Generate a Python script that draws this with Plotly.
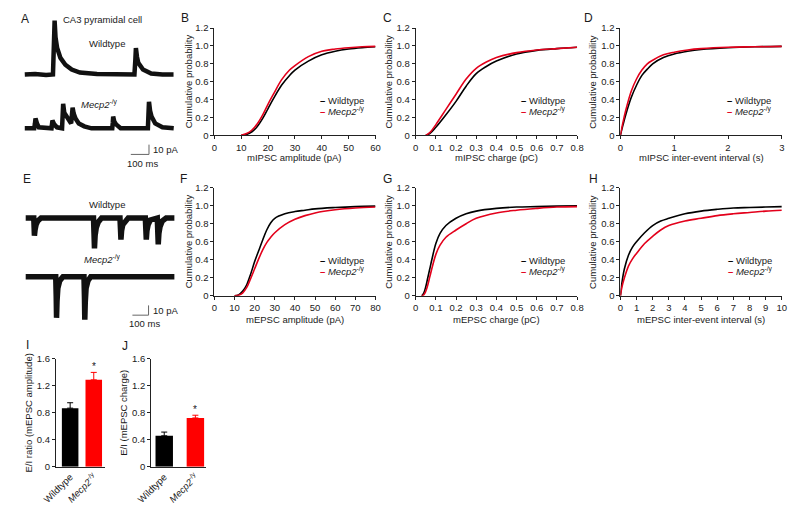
import plotly.graph_objects as go

W, H = 800, 509
FONT = "Liberation Sans, Arial, sans-serif"
TXT = "#1a1a1a"
BLACK = "#000000"
RED = "#e3001b"
BARRED = "#ff0000"
AXC = "#222222"
TRACEC = "#111111"

# ---------------- data: example traces (A, E) ----------------
SCALE_PA = 10
SCALE_MS = 100
a_wt_t = [3, 60, 120, 158, 163, 167, 172, 181, 199, 226, 261, 306, 400, 520, 606, 611, 614, 620, 627, 653, 698, 760, 821]
a_wt_i = [0, 0.5, -0.5, 0, 30, 55, 38, 27, 17, 10, 5, 2, 0.5, 0, 0, 15, 27, 18, 12, 5, 1, 0, 0]
a_ko_t = [3, 55, 59, 62, 70, 80, 150, 153, 155, 165, 180, 208, 211, 214, 220, 234, 250, 258, 262, 266, 272, 282, 300, 330,
          370, 484, 487, 489, 495, 505, 530, 680, 683, 686, 692, 700, 720, 760, 822]
a_ko_i = [0, 0, 5, 10, 5, 1, 0, 4, 8, 4, 1, 0, 12, 25, 16, 12, 7, 5, 13, 21, 15, 10, 5, 2,
          0, 0, 6, 12, 7, 4, 0, 0, 14, 27, 18, 12, 5, 1, 0]
e_wt_t = [0, 50, 52, 54, 58, 64, 75, 95, 420, 423, 426, 430, 437, 450, 470, 584, 587, 590, 594, 601, 615, 635,
          741, 744, 747, 751, 758, 772, 815, 818, 821, 825, 832, 846, 870, 921]
e_wt_i = [0, 0, -9, -18, -12, -7, -3, 0, 0, -15, -31, -18, -10, -4, 0, 0, -11, -22, -13, -7, -3, 0,
          0, -11, -22, -13, -7, -2, 0, -13, -27, -16, -9, -3, 0, 0]
e_ko_t = [0, 186, 189, 191, 194, 199, 211, 231, 361, 364, 366, 369, 374, 386, 403, 921]
e_ko_i = [0, 0, -20, -42, -25, -12, -4, 0, 0, -22, -44, -26, -12, -4, 0, 0]

# ---------------- data: cumulative distributions ----------------
b_x = [10, 12, 14, 16, 18, 20, 22, 25, 28, 30, 35, 40, 45, 50, 55, 60]
b_wt = [0, 0.01, 0.04, 0.1, 0.19, 0.3, 0.41, 0.56, 0.67, 0.73, 0.83, 0.9, 0.94, 0.965, 0.98, 0.99]
b_ko = [0, 0.02, 0.06, 0.13, 0.23, 0.35, 0.46, 0.62, 0.73, 0.78, 0.88, 0.94, 0.965, 0.98, 0.99, 0.995]

c_x = [0.05, 0.07, 0.1, 0.15, 0.2, 0.25, 0.3, 0.35, 0.4, 0.5, 0.6, 0.7, 0.8]
c_wt = [0, 0.02, 0.09, 0.23, 0.38, 0.55, 0.69, 0.77, 0.83, 0.91, 0.95, 0.97, 0.985]
c_ko = [0, 0.03, 0.12, 0.29, 0.46, 0.63, 0.75, 0.82, 0.87, 0.925, 0.955, 0.97, 0.985]

d_x = [0, 0.05, 0.1, 0.2, 0.3, 0.4, 0.5, 0.6, 0.8, 1, 1.25, 1.5, 2, 2.5, 3]
d_wt = [0, 0.12, 0.23, 0.42, 0.56, 0.67, 0.74, 0.8, 0.87, 0.91, 0.94, 0.96, 0.98, 0.99, 0.995]
d_ko = [0, 0.15, 0.28, 0.49, 0.63, 0.73, 0.8, 0.84, 0.9, 0.93, 0.955, 0.97, 0.985, 0.99, 0.995]

f_x = [10, 12, 14, 16, 18, 20, 22, 24, 26, 28, 30, 35, 40, 45, 50, 60, 70, 80]
f_wt = [0, 0.01, 0.05, 0.12, 0.24, 0.38, 0.5, 0.62, 0.73, 0.81, 0.86, 0.91, 0.935, 0.95, 0.965, 0.98, 0.99, 0.995]
f_ko = [0, 0.005, 0.03, 0.09, 0.19, 0.3, 0.41, 0.51, 0.59, 0.65, 0.7, 0.79, 0.85, 0.89, 0.92, 0.955, 0.975, 0.985]

g_x = [0.03, 0.04, 0.05, 0.06, 0.07, 0.08, 0.1, 0.12, 0.15, 0.2, 0.25, 0.3, 0.4, 0.5, 0.6, 0.7, 0.8]
g_wt = [0, 0.03, 0.1, 0.2, 0.3, 0.4, 0.58, 0.69, 0.78, 0.86, 0.91, 0.94, 0.97, 0.985, 0.99, 0.995, 1.0]
g_ko = [0, 0.01, 0.05, 0.12, 0.21, 0.3, 0.46, 0.56, 0.65, 0.73, 0.8, 0.86, 0.92, 0.95, 0.97, 0.985, 0.99]

h_x = [0, 0.1, 0.25, 0.5, 0.75, 1, 1.5, 2, 2.5, 3, 4, 5, 6, 7, 8, 9, 10]
h_wt = [0, 0.15, 0.3, 0.45, 0.54, 0.6, 0.7, 0.78, 0.83, 0.86, 0.91, 0.94, 0.96, 0.975, 0.98, 0.985, 0.99]
h_ko = [0, 0.1, 0.2, 0.33, 0.41, 0.47, 0.58, 0.66, 0.73, 0.78, 0.83, 0.86, 0.89, 0.91, 0.925, 0.94, 0.95]

# ---------------- data: E/I ratio bars ----------------
groups = ["Wildtype", "<i>Mecp2</i><sup>-/y</sup>"]
i_vals = [0.87, 1.29]
i_err = [0.08, 0.11]
j_vals = [0.46, 0.725]
j_err = [0.055, 0.04]

cdf_yticks = [0, 0.2, 0.4, 0.6, 0.8, 1.0, 1.2]
cdf_yticktext = ["0", "0.2", "0.4", "0.6", "0.8", "1.0", "1.2"]
bar_yticks = [0, 0.4, 0.8, 1.2, 1.6]
bar_yticktext = ["0", "0.4", "0.8", "1.2", "1.6"]


def fx(p):
    return p / W


def fy(p):
    return 1 - p / H


fig = go.Figure()
layout = dict(width=W, height=H, margin=dict(l=0, r=0, t=0, b=0), autosize=False,
              paper_bgcolor="white", plot_bgcolor="white", showlegend=False,
              font=dict(family=FONT, size=9.5, color=TXT))
annotations = []


def ann(text, x, y, size=9.5, xanchor="center", yanchor="middle", angle=0, xref="paper", yref="paper"):
    if xref == "paper":
        x = fx(x)
    if yref == "paper":
        y = fy(y)
    annotations.append(dict(text=text, x=x, y=y, xref=xref, yref=yref, showarrow=False,
                            xanchor=xanchor, yanchor=yanchor, textangle=angle,
                            font=dict(family=FONT, size=size, color=TXT)))


# ---------------- panels A and E (traces) ----------------
def trace_axes(n, px_dom, py_dom, xrange, yrange):
    key = "" if n == 1 else str(n)
    layout["xaxis" + key] = dict(domain=[fx(px_dom[0]), fx(px_dom[1])], range=xrange, visible=False,
                                 anchor="y" + key, fixedrange=True)
    layout["yaxis" + key] = dict(domain=[fy(py_dom[1]), fy(py_dom[0])], range=yrange, visible=False,
                                 anchor="x" + key, fixedrange=True)


def add_recording(t, i, base, xa, ya, w):
    fig.add_trace(go.Scatter(x=t, y=[v + base for v in i], mode="lines",
                             line=dict(color=TRACEC, width=w), xaxis=xa, yaxis=ya))


# A: 0.187 px/ms, 1 px/pA
trace_axes(1, (0, 170), (0, 170), [-50.8, 858.3], [0, 170])
A_WT_BASE, A_KO_BASE = 100, 45
add_recording(a_wt_t, a_wt_i, A_WT_BASE, "x", "y", 4.5)
add_recording(a_ko_t, a_ko_i, A_KO_BASE, "x", "y", 4.5)
A_SB_T, A_SB_V = 686, 18.3
fig.add_trace(go.Scatter(x=[A_SB_T - SCALE_MS, A_SB_T, A_SB_T], y=[A_SB_V, A_SB_V, A_SB_V + SCALE_PA],
                         mode="lines", line=dict(color="#666", width=1), xaxis="x", yaxis="y"))

# E: 0.166 px/ms, 1 px/pA
trace_axes(2, (0, 170), (170, 335), [-66.3, 957.8], [0, 165])
E_WT_BASE, E_KO_BASE = 118.3, 58.3
add_recording(e_wt_t, e_wt_i, E_WT_BASE, "x2", "y2", 5.5)
add_recording(e_ko_t, e_ko_i, E_KO_BASE, "x2", "y2", 5.5)
E_SB_T, E_SB_V = 761, 19
fig.add_trace(go.Scatter(x=[E_SB_T - SCALE_MS, E_SB_T, E_SB_T], y=[E_SB_V, E_SB_V, E_SB_V + SCALE_PA],
                         mode="lines", line=dict(color="#666", width=1), xaxis="x2", yaxis="y2"))

ann("CA3 pyramidal cell", 90, 13.5)
ann("Wildtype", 95, 38)
ann("<i>Mecp2</i><sup>-/y</sup>", 87, 100)
ann("%d pA" % SCALE_PA, 139.5, 146.5, xanchor="left")
ann("%d ms" % SCALE_MS, 131, 161)
ann("Wildtype", 95, 203)
ann("<i>Mecp2</i><sup>-/y</sup>", 90, 259)
ann("%d pA" % SCALE_PA, 139.5, 311.5, xanchor="left")
ann("%d ms" % SCALE_MS, 133, 325)


# ---------------- CDF panels ----------------
def fmt(v):
    return "%g" % v


cdf_panels = [
    dict(n=3, xd=(205, 370.7), yd=(22.5, 132.2), xr=[0, 60], xt=[0, 10, 20, 30, 40, 50, 60],
         xtitle="mIPSC amplitude (pA)", x=b_x, wt=b_wt, ko=b_ko, ytx=178.5, leg=311.5, row=0),
    dict(n=4, xd=(412, 578), yd=(22.5, 132.2), xr=[0, 0.8], xt=[0, 0.1, 0.2, 0.3, 0.4, 0.5, 0.6, 0.7, 0.8],
         xtitle="mIPSC charge (pC)", x=c_x, wt=c_wt, ko=c_ko, ytx=384.5, leg=518, row=0),
    dict(n=5, xd=(622.5, 788.5), yd=(22.5, 132.2), xr=[0, 3], xt=[0, 1, 2, 3],
         xtitle="mIPSC inter-event interval (s)", x=d_x, wt=d_wt, ko=d_ko, ytx=593.5, leg=730, row=0),
    dict(n=6, xd=(205, 370.7), yd=(185.7, 296.2), xr=[0, 80], xt=[0, 10, 20, 30, 40, 50, 60, 70, 80],
         xtitle="mEPSC amplitude (pA)", x=f_x, wt=f_wt, ko=f_ko, ytx=178.5, leg=311.5, row=1),
    dict(n=7, xd=(412, 578), yd=(185.7, 296.2), xr=[0, 0.8], xt=[0, 0.1, 0.2, 0.3, 0.4, 0.5, 0.6, 0.7, 0.8],
         xtitle="mEPSC charge (pC)", x=g_x, wt=g_wt, ko=g_ko, ytx=384.5, leg=518, row=1),
    dict(n=8, xd=(622.5, 788.5), yd=(185.7, 296.2), xr=[0, 10], xt=list(range(0, 11)),
         xtitle="mEPSC inter-event interval (s)", x=h_x, wt=h_wt, ko=h_ko, ytx=594.5, leg=731, row=1),
]

tickfont = dict(family=FONT, size=9.5, color=TXT)
for p in cdf_panels:
    n = p["n"]
    layout["xaxis%d" % n] = dict(domain=[fx(p["xd"][0]), fx(p["xd"][1])], range=p["xr"], anchor="y%d" % n,
                                 showline=True, linecolor=AXC, linewidth=1, ticks="outside", ticklen=3,
                                 tickwidth=1, tickcolor=AXC, tickvals=p["xt"], ticktext=[fmt(v) for v in p["xt"]],
                                 showgrid=False, zeroline=False, tickfont=tickfont, fixedrange=True)
    layout["yaxis%d" % n] = dict(domain=[fy(p["yd"][1]), fy(p["yd"][0])], range=[0, 1.2], anchor="x%d" % n,
                                 showline=True, linecolor=AXC, linewidth=1, ticks="outside", ticklen=3,
                                 tickwidth=1, tickcolor=AXC, tickvals=cdf_yticks, ticktext=cdf_yticktext,
                                 showgrid=False, zeroline=False, tickfont=tickfont, fixedrange=True)
    fig.add_trace(go.Scatter(x=p["x"], y=p["wt"], mode="lines", line=dict(color=BLACK, width=1.6, shape="spline"),
                             xaxis="x%d" % n, yaxis="y%d" % n))
    fig.add_trace(go.Scatter(x=p["x"], y=p["ko"], mode="lines", line=dict(color=RED, width=1.6, shape="spline"),
                             xaxis="x%d" % n, yaxis="y%d" % n))
    ymid = (p["yd"][0] + p["yd"][1]) / 2
    ann("Cumulative probability", p["ytx"], ymid, angle=-90)
    ann(p["xtitle"], (p["xd"][0] + p["xd"][1]) / 2, 155 if p["row"] == 0 else 320)
    ly = (96.7, 107.5) if p["row"] == 0 else (260, 270.5)
    ann("<span style='color:%s'><b>\u2013</b></span> Wildtype" % BLACK, p["leg"], ly[0], xanchor="left")
    ann("<span style='color:%s'><b>\u2013</b></span> <i>Mecp2</i><sup>-/y</sup>" % RED, p["leg"], ly[1],
        xanchor="left")

# ---------------- bar panels I and J ----------------
bar_panels = [
    dict(n=9, xd=(42, 93), xr=[-0.605, 1.494], width=0.7, vals=i_vals, err=i_err,
         ytitle="E/I ratio (mEPSC amplitude)", ytx=14),
    dict(n=10, xd=(140, 196.7), xr=[-0.42, 1.35], width=0.56, vals=j_vals, err=j_err,
         ytitle="E/I (mEPSC charge)", ytx=112),
]
BAR_YD = (360.7, 471)
for p in bar_panels:
    n = p["n"]
    layout["xaxis%d" % n] = dict(domain=[fx(p["xd"][0]), fx(p["xd"][1])], range=p["xr"], anchor="y%d" % n,
                                 showline=True, linecolor=AXC, linewidth=1, ticks="", tickvals=[0, 1],
                                 ticktext=groups, tickangle=-45, showgrid=False, zeroline=False,
                                 tickfont=tickfont, fixedrange=True)
    layout["yaxis%d" % n] = dict(domain=[fy(BAR_YD[1]), fy(BAR_YD[0])], range=[0, 1.6], anchor="x%d" % n,
                                 showline=True, linecolor=AXC, linewidth=1, ticks="outside", ticklen=3,
                                 tickwidth=1, tickcolor=AXC, tickvals=bar_yticks, ticktext=bar_yticktext,
                                 showgrid=False, zeroline=False, tickfont=tickfont, fixedrange=True)
    for k, col in enumerate([BLACK, BARRED]):
        fig.add_trace(go.Bar(x=[k], y=[p["vals"][k]], width=p["width"], marker=dict(color=col, line=dict(width=0)),
                             error_y=dict(type="data", symmetric=False, array=[p["err"][k]], arrayminus=[0],
                                          color=col, thickness=1, width=3),
                             xaxis="x%d" % n, yaxis="y%d" % n))
    annotations.append(dict(text="*", x=1, y=p["vals"][1] + p["err"][1], xref="x%d" % n, yref="y%d" % n,
                            showarrow=False, xanchor="center", yanchor="bottom", yshift=-2,
                            font=dict(family=FONT, size=10, color=TXT)))
    ann(p["ytitle"], p["ytx"], (BAR_YD[0] + BAR_YD[1]) / 2, angle=-90)

# ---------------- panel letters ----------------
for letter, x, y in [("A", 10, 13), ("B", 175, 12), ("C", 383, 12), ("D", 590, 12),
                     ("E", 12, 177), ("F", 173, 177), ("G", 383, 177), ("H", 595, 177),
                     ("I", 13, 346), ("J", 113, 347)]:
    ann(letter, x, y, size=12)

layout["annotations"] = annotations
fig.update_layout(**layout)
fig.write_html("out.html", config={"displayModeBar": False},
               post_script="document.body.style.margin='0';document.body.style.overflow='hidden';")
